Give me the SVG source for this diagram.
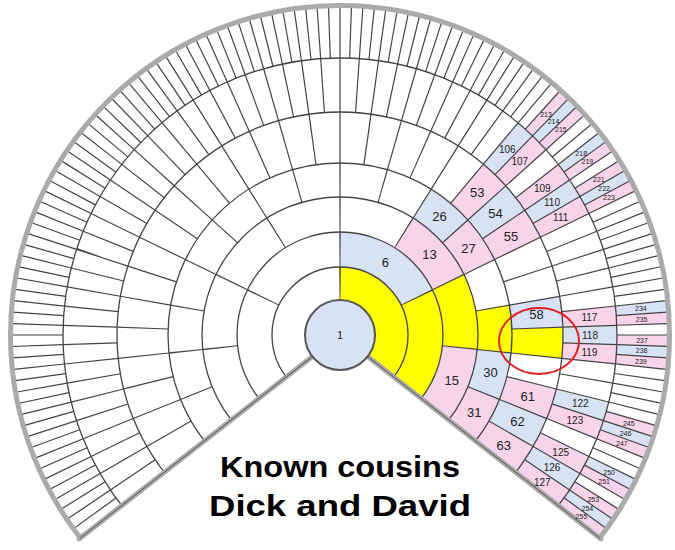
<svg xmlns="http://www.w3.org/2000/svg" width="675" height="550" viewBox="0 0 675 550">
<style>
.b{stroke:#d8e2f5}.p{stroke:#f8d4ea}.y{stroke:#ffff00}
.arc{fill:none;stroke:#444;stroke-width:1.3}
.rad{fill:none;stroke:#444}
text{font-family:"Liberation Sans",Arial,sans-serif;fill:#222;text-anchor:middle;dominant-baseline:central}
.t3{font-size:13px}.t7{font-size:10px;fill:#333}.t8{font-size:7px;fill:#333}
</style>
<rect width="675" height="550" fill="#fff"/>
<g id="fills" fill="none">
<circle r="51.5" cx="340" cy="335" class="y" stroke-width="33" pathLength="360" stroke-dasharray="128 360" transform="rotate(270 340 335)"/>
<g stroke-width="35">
<circle r="85.5" cx="340" cy="335" class="b" pathLength="360" stroke-dasharray="64 360" transform="rotate(270 340 335)"/>
<circle r="85.5" cx="340" cy="335" class="y" pathLength="360" stroke-dasharray="64 360" transform="rotate(334 340 335)"/>
<circle r="120.5" cx="340" cy="335" class="p" pathLength="360" stroke-dasharray="32 360" transform="rotate(302 340 335)"/>
<circle r="120.5" cx="340" cy="335" class="y" pathLength="360" stroke-dasharray="32 360" transform="rotate(334 340 335)"/>
<circle r="120.5" cx="340" cy="335" class="p" pathLength="360" stroke-dasharray="32 360" transform="rotate(366 340 335)"/>
</g>
<g stroke-width="34">
<circle r="155" cx="340" cy="335" class="b" pathLength="360" stroke-dasharray="16 360" transform="rotate(302 340 335)"/>
<circle r="155" cx="340" cy="335" class="p" pathLength="360" stroke-dasharray="16 360" transform="rotate(318 340 335)"/>
<circle r="155" cx="340" cy="335" class="y" pathLength="360" stroke-dasharray="16 360" transform="rotate(350 340 335)"/>
<circle r="155" cx="340" cy="335" class="b" pathLength="360" stroke-dasharray="16 360" transform="rotate(366 340 335)"/>
<circle r="155" cx="340" cy="335" class="p" pathLength="360" stroke-dasharray="16 360" transform="rotate(382 340 335)"/>
</g>
<g stroke-width="51">
<circle r="197.5" cx="340" cy="335" class="p" pathLength="360" stroke-dasharray="8 360" transform="rotate(310 340 335)"/>
<circle r="197.5" cx="340" cy="335" class="b" pathLength="360" stroke-dasharray="8 360" transform="rotate(318 340 335)"/>
<circle r="197.5" cx="340" cy="335" class="p" pathLength="360" stroke-dasharray="8 360" transform="rotate(326 340 335)"/>
<circle r="197.5" cx="340" cy="335" class="b" pathLength="360" stroke-dasharray="8 360" transform="rotate(350 340 335)"/>
<circle r="197.5" cx="340" cy="335" class="y" pathLength="360" stroke-dasharray="8 360" transform="rotate(358 340 335)"/>
<circle r="197.5" cx="340" cy="335" class="p" pathLength="360" stroke-dasharray="8 360" transform="rotate(374 340 335)"/>
<circle r="197.5" cx="340" cy="335" class="b" pathLength="360" stroke-dasharray="8 360" transform="rotate(382 340 335)"/>
<circle r="197.5" cx="340" cy="335" class="p" pathLength="360" stroke-dasharray="8 360" transform="rotate(390 340 335)"/>
</g>
<g stroke-width="54">
<circle r="250" cx="340" cy="335" class="b" pathLength="360" stroke-dasharray="4 360" transform="rotate(310 340 335)"/>
<circle r="250" cx="340" cy="335" class="p" pathLength="360" stroke-dasharray="4 360" transform="rotate(314 340 335)"/>
<circle r="250" cx="340" cy="335" class="p" pathLength="360" stroke-dasharray="4 360" transform="rotate(322 340 335)"/>
<circle r="250" cx="340" cy="335" class="b" pathLength="360" stroke-dasharray="4 360" transform="rotate(326 340 335)"/>
<circle r="250" cx="340" cy="335" class="p" pathLength="360" stroke-dasharray="4 360" transform="rotate(330 340 335)"/>
<circle r="250" cx="340" cy="335" class="p" pathLength="360" stroke-dasharray="4 360" transform="rotate(354 340 335)"/>
<circle r="250" cx="340" cy="335" class="b" pathLength="360" stroke-dasharray="4 360" transform="rotate(358 340 335)"/>
<circle r="250" cx="340" cy="335" class="p" pathLength="360" stroke-dasharray="4 360" transform="rotate(362 340 335)"/>
<circle r="250" cx="340" cy="335" class="b" pathLength="360" stroke-dasharray="4 360" transform="rotate(374 340 335)"/>
<circle r="250" cx="340" cy="335" class="p" pathLength="360" stroke-dasharray="4 360" transform="rotate(378 340 335)"/>
<circle r="250" cx="340" cy="335" class="p" pathLength="360" stroke-dasharray="4 360" transform="rotate(386 340 335)"/>
<circle r="250" cx="340" cy="335" class="b" pathLength="360" stroke-dasharray="4 360" transform="rotate(390 340 335)"/>
<circle r="250" cx="340" cy="335" class="p" pathLength="360" stroke-dasharray="4 360" transform="rotate(394 340 335)"/>
</g>
<g stroke-width="51">
<circle r="302.5" cx="340" cy="335" class="p" pathLength="360" stroke-dasharray="2 360" transform="rotate(312 340 335)"/>
<circle r="302.5" cx="340" cy="335" class="b" pathLength="360" stroke-dasharray="2 360" transform="rotate(314 340 335)"/>
<circle r="302.5" cx="340" cy="335" class="p" pathLength="360" stroke-dasharray="2 360" transform="rotate(316 340 335)"/>
<circle r="302.5" cx="340" cy="335" class="b" pathLength="360" stroke-dasharray="2 360" transform="rotate(322 340 335)"/>
<circle r="302.5" cx="340" cy="335" class="p" pathLength="360" stroke-dasharray="2 360" transform="rotate(324 340 335)"/>
<circle r="302.5" cx="340" cy="335" class="p" pathLength="360" stroke-dasharray="2 360" transform="rotate(328 340 335)"/>
<circle r="302.5" cx="340" cy="335" class="b" pathLength="360" stroke-dasharray="2 360" transform="rotate(330 340 335)"/>
<circle r="302.5" cx="340" cy="335" class="p" pathLength="360" stroke-dasharray="2 360" transform="rotate(332 340 335)"/>
<circle r="302.5" cx="340" cy="335" class="b" pathLength="360" stroke-dasharray="2 360" transform="rotate(354 340 335)"/>
<circle r="302.5" cx="340" cy="335" class="p" pathLength="360" stroke-dasharray="2 360" transform="rotate(356 340 335)"/>
<circle r="302.5" cx="340" cy="335" class="p" pathLength="360" stroke-dasharray="2 360" transform="rotate(360 340 335)"/>
<circle r="302.5" cx="340" cy="335" class="b" pathLength="360" stroke-dasharray="2 360" transform="rotate(362 340 335)"/>
<circle r="302.5" cx="340" cy="335" class="p" pathLength="360" stroke-dasharray="2 360" transform="rotate(364 340 335)"/>
<circle r="302.5" cx="340" cy="335" class="p" pathLength="360" stroke-dasharray="2 360" transform="rotate(376 340 335)"/>
<circle r="302.5" cx="340" cy="335" class="b" pathLength="360" stroke-dasharray="2 360" transform="rotate(378 340 335)"/>
<circle r="302.5" cx="340" cy="335" class="p" pathLength="360" stroke-dasharray="2 360" transform="rotate(380 340 335)"/>
<circle r="302.5" cx="340" cy="335" class="b" pathLength="360" stroke-dasharray="2 360" transform="rotate(386 340 335)"/>
<circle r="302.5" cx="340" cy="335" class="p" pathLength="360" stroke-dasharray="2 360" transform="rotate(388 340 335)"/>
<circle r="302.5" cx="340" cy="335" class="p" pathLength="360" stroke-dasharray="2 360" transform="rotate(392 340 335)"/>
<circle r="302.5" cx="340" cy="335" class="b" pathLength="360" stroke-dasharray="2 360" transform="rotate(394 340 335)"/>
<circle r="302.5" cx="340" cy="335" class="p" pathLength="360" stroke-dasharray="2 360" transform="rotate(396 340 335)"/>
</g>
</g>
<g id="rings" class="arc">
<circle cx="340" cy="335" r="68"/><circle cx="340" cy="335" r="103"/><circle cx="340" cy="335" r="138"/><circle cx="340" cy="335" r="172"/><circle cx="340" cy="335" r="223"/><circle cx="340" cy="335" r="277"/>
</g>
<g id="radials" class="rad" transform="rotate(142 340 335)">
<circle cx="340" cy="335" r="51.5" stroke-width="33" pathLength="360" stroke-dasharray="1.335 126.665" stroke-dashoffset="0.667"/>
<circle cx="340" cy="335" r="85.5" stroke-width="35" pathLength="360" stroke-dasharray="0.804 63.196" stroke-dashoffset="0.402"/>
<circle cx="340" cy="335" r="120.5" stroke-width="35" pathLength="360" stroke-dasharray="0.571 31.429" stroke-dashoffset="0.285"/>
<circle cx="340" cy="335" r="155" stroke-width="34" pathLength="360" stroke-dasharray="0.444 15.556" stroke-dashoffset="0.222"/>
<circle cx="340" cy="335" r="197.5" stroke-width="51" pathLength="360" stroke-dasharray="0.348 7.652" stroke-dashoffset="0.174"/>
<circle cx="340" cy="335" r="250" stroke-width="54" pathLength="360" stroke-dasharray="0.275 3.725" stroke-dashoffset="0.137"/>
<circle cx="340" cy="335" r="302.5" stroke-width="51" pathLength="360" stroke-dasharray="0.227 1.773" stroke-dashoffset="0.113"/>
</g>
<g id="frame">
<circle cx="340" cy="335" r="329.5" fill="none" stroke="#aaa" stroke-width="5"/>
<polygon points="340,335 655,581 340,700 25,581" fill="#fff"/>
<line x1="367.6" y1="356.5" x2="601" y2="539" stroke="#aaa" stroke-width="5" stroke-linecap="round"/>
<line x1="312.4" y1="356.5" x2="79" y2="539" stroke="#aaa" stroke-width="5" stroke-linecap="round"/>
<line x1="367.6" y1="356.5" x2="600" y2="538.2" stroke="#555" stroke-width="1"/>
<line x1="312.4" y1="356.5" x2="80" y2="538.2" stroke="#555" stroke-width="1"/>
</g>
<g id="n1"><circle cx="340" cy="335" r="35" fill="#d8e2f5" stroke="#555" stroke-width="2"/><text x="340" y="335" style="font-size:11px">1</text></g>
<g id="labels">
<g class="t3">
<text x="385.3" y="262.5">6</text>
<text x="429.5" y="254.4">13</text>
<text x="451.7" y="380.1">15</text>
<text x="439.6" y="216.3">26</text>
<text x="468.5" y="248.3">27</text>
<text x="490.4" y="372.5">30</text>
<text x="474.2" y="412.5">31</text>
<text x="477.2" y="192.9">53</text>
<text x="495.6" y="213.4">54</text>
<text x="511.0" y="236.3">55</text>
<text x="536.4" y="314.4">58</text>
<text x="527.8" y="396.0">61</text>
<text x="517.5" y="421.6">62</text>
<text x="503.7" y="445.4">63</text>
</g>
<g class="t7">
<text x="507.3" y="149.2">106</text>
<text x="519.8" y="161.3">107</text>
<text x="542.3" y="188.1">109</text>
<text x="552.0" y="202.5">110</text>
<text x="560.7" y="217.6">111</text>
<text x="589.4" y="317.6">117</text>
<text x="590.0" y="335.0">118</text>
<text x="589.4" y="352.4">119</text>
<text x="580.3" y="403.9">122</text>
<text x="574.9" y="420.5">123</text>
<text x="560.7" y="452.4">125</text>
<text x="552.0" y="467.5">126</text>
<text x="542.3" y="482.0">127</text>
</g>
<g class="t8">
<text x="546.0" y="114.1">213</text>
<text x="553.5" y="121.5">214</text>
<text x="560.9" y="129.0">215</text>
<text x="581.2" y="153.3">218</text>
<text x="587.4" y="161.8">219</text>
<text x="598.9" y="179.5">221</text>
<text x="604.1" y="188.6">222</text>
<text x="609.1" y="197.9">223</text>
<text x="640.9" y="308.7">234</text>
<text x="641.6" y="319.2">235</text>
<text x="642.0" y="340.3">237</text>
<text x="641.6" y="350.8">238</text>
<text x="640.9" y="361.3">239</text>
<text x="628.8" y="423.3">245</text>
<text x="625.5" y="433.3">246</text>
<text x="621.9" y="443.2">247</text>
<text x="609.1" y="472.1">250</text>
<text x="604.1" y="481.4">251</text>
<text x="593.3" y="499.5">253</text>
<text x="587.4" y="508.2">254</text>
<text x="581.2" y="516.7">255</text>
</g>
</g>
<ellipse id="highlight" cx="539" cy="341" rx="40" ry="33" fill="none" stroke="#e02020" stroke-width="2"/>
<g id="title" style="font-family:'DejaVu Sans',sans-serif;font-weight:bold;font-size:30px">
<text x="340" y="466" textLength="240" lengthAdjust="spacingAndGlyphs" style="fill:#000">Known cousins</text>
<text x="340" y="505" textLength="262" lengthAdjust="spacingAndGlyphs" style="fill:#000">Dick and David</text>
</g>
</svg>
